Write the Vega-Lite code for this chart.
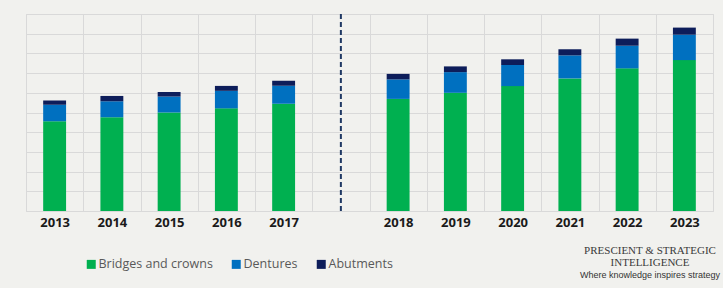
{
  "$schema": "https://vega.github.io/schema/vega-lite/v6.json",
  "width": 687,
  "height": 197,
  "autosize": {"type": "none"},
  "padding": {"left": 26, "top": 14, "right": 10, "bottom": 77},
  "background": "#F1F1EE",
  "config": {
    "view": {"stroke": "#D9D9D9", "strokeWidth": 1, "fill": "#F1F1EE"},
    "font": "Open Sans"
  },
  "title": {
    "text": ["PRESCIENT & STRATEGIC", "INTELLIGENCE"],
    "subtitle": "Where knowledge inspires strategy",
    "orient": "bottom",
    "anchor": "end",
    "align": "center",
    "dx": -63,
    "offset": -26,
    "font": "Liberation Serif",
    "fontSize": 11,
    "fontWeight": "normal",
    "lineHeight": 11.5,
    "color": "#3A3A3A",
    "subtitleFont": "Liberation Sans",
    "subtitleFontSize": 9,
    "subtitleColor": "#333333",
    "subtitlePadding": 3
  },
  "datasets": {
    "bars": [
      {"year": "2013", "segment": "Bridges and crowns", "rank": 1, "value": 4.56},
      {"year": "2013", "segment": "Dentures", "rank": 2, "value": 0.83},
      {"year": "2013", "segment": "Abutments", "rank": 3, "value": 0.22},
      {"year": "2014", "segment": "Bridges and crowns", "rank": 1, "value": 4.76},
      {"year": "2014", "segment": "Dentures", "rank": 2, "value": 0.81},
      {"year": "2014", "segment": "Abutments", "rank": 3, "value": 0.27},
      {"year": "2015", "segment": "Bridges and crowns", "rank": 1, "value": 5.0},
      {"year": "2015", "segment": "Dentures", "rank": 2, "value": 0.81},
      {"year": "2015", "segment": "Abutments", "rank": 3, "value": 0.23},
      {"year": "2016", "segment": "Bridges and crowns", "rank": 1, "value": 5.21},
      {"year": "2016", "segment": "Dentures", "rank": 2, "value": 0.89},
      {"year": "2016", "segment": "Abutments", "rank": 3, "value": 0.25},
      {"year": "2017", "segment": "Bridges and crowns", "rank": 1, "value": 5.44},
      {"year": "2017", "segment": "Dentures", "rank": 2, "value": 0.92},
      {"year": "2017", "segment": "Abutments", "rank": 3, "value": 0.25},
      {"year": "2018", "segment": "Bridges and crowns", "rank": 1, "value": 5.69},
      {"year": "2018", "segment": "Dentures", "rank": 2, "value": 0.99},
      {"year": "2018", "segment": "Abutments", "rank": 3, "value": 0.28},
      {"year": "2019", "segment": "Bridges and crowns", "rank": 1, "value": 6.0},
      {"year": "2019", "segment": "Dentures", "rank": 2, "value": 1.05},
      {"year": "2019", "segment": "Abutments", "rank": 3, "value": 0.29},
      {"year": "2020", "segment": "Bridges and crowns", "rank": 1, "value": 6.34},
      {"year": "2020", "segment": "Dentures", "rank": 2, "value": 1.07},
      {"year": "2020", "segment": "Abutments", "rank": 3, "value": 0.29},
      {"year": "2021", "segment": "Bridges and crowns", "rank": 1, "value": 6.73},
      {"year": "2021", "segment": "Dentures", "rank": 2, "value": 1.17},
      {"year": "2021", "segment": "Abutments", "rank": 3, "value": 0.31},
      {"year": "2022", "segment": "Bridges and crowns", "rank": 1, "value": 7.24},
      {"year": "2022", "segment": "Dentures", "rank": 2, "value": 1.15},
      {"year": "2022", "segment": "Abutments", "rank": 3, "value": 0.36},
      {"year": "2023", "segment": "Bridges and crowns", "rank": 1, "value": 7.66},
      {"year": "2023", "segment": "Dentures", "rank": 2, "value": 1.29},
      {"year": "2023", "segment": "Abutments", "rank": 3, "value": 0.36}
    ],
    "divider": [{"year": " "}]
  },
  "layer": [
    {
      "data": {"name": "bars"},
      "mark": {"type": "bar", "width": {"band": 0.4}},
      "encoding": {
        "x": {
          "field": "year",
          "type": "nominal",
          "scale": {
            "domain": ["2013", "2014", "2015", "2016", "2017", " ", "2018", "2019", "2020", "2021", "2022", "2023"],
            "paddingInner": 0,
            "paddingOuter": 0
          },
          "axis": {
            "title": null,
            "labelAngle": 0,
            "labelFont": "Open Sans",
            "labelFontSize": 13,
            "labelFontWeight": "bold",
            "labelColor": "#1A1A1A",
            "labelPadding": 5,
            "ticks": false,
            "domain": false,
            "grid": true,
            "tickBand": "extent",
            "gridColor": "#D9D9D9",
            "gridWidth": 1
          }
        },
        "y": {
          "field": "value",
          "type": "quantitative",
          "stack": "zero",
          "scale": {"domain": [0, 10], "nice": false},
          "axis": {
            "title": null,
            "labels": false,
            "ticks": false,
            "domain": false,
            "grid": true,
            "values": [0, 1, 2, 3, 4, 5, 6, 7, 8, 9, 10],
            "gridColor": "#D9D9D9",
            "gridWidth": 1
          }
        },
        "order": {"field": "rank", "type": "quantitative", "sort": "ascending"},
        "color": {
          "field": "segment",
          "type": "nominal",
          "sort": ["Bridges and crowns", "Dentures", "Abutments"],
          "scale": {
            "domain": ["Bridges and crowns", "Dentures", "Abutments"],
            "range": ["#00B050", "#0070C0", "#0D1D5A"]
          },
          "legend": {
            "title": null,
            "orient": "none",
            "legendX": 59,
            "legendY": 244,
            "direction": "horizontal",
            "symbolType": "square",
            "symbolSize": 81,
            "symbolStrokeWidth": 0,
            "labelFont": "Open Sans",
            "labelFontSize": 12.5,
            "labelColor": "#595959",
            "labelOffset": 1,
            "columnPadding": 17
          }
        }
      }
    },
    {
      "data": {"name": "divider"},
      "mark": {"type": "rule", "color": "#1F3864", "strokeWidth": 2, "strokeDash": [5, 3]},
      "encoding": {
        "x": {"field": "year", "type": "nominal"}
      }
    }
  ]
}
